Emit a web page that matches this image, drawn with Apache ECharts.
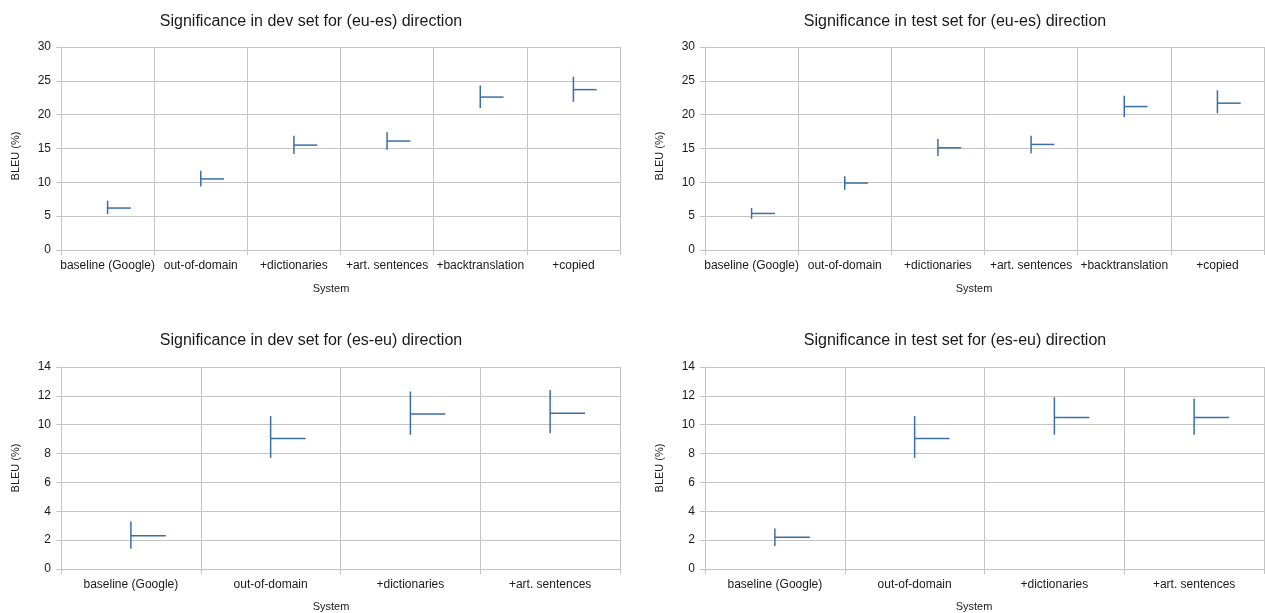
<!DOCTYPE html>
<html>
<head>
<meta charset="utf-8">
<script src="https://cdn.jsdelivr.net/npm/echarts@6/dist/echarts.min.js"></script>
<style>
  html, body { margin: 0; padding: 0; background: #fff; }
  #chart { width: 1265px; height: 613px; }
</style>
</head>
<body>
<div id="chart"></div>
<script>
// ---- Data ----
var categoriesEuEs = ["baseline (Google)", "out-of-domain", "+dictionaries", "+art. sentences", "+backtranslation", "+copied"];
var categoriesEsEu = ["baseline (Google)", "out-of-domain", "+dictionaries", "+art. sentences"];

var devEuEsLow  = [5.3, 9.4, 14.2, 14.8, 21.0, 21.9];
var devEuEsHigh = [7.3, 11.7, 16.9, 17.4, 24.3, 25.6];
var devEuEsMean = [6.2, 10.5, 15.5, 16.1, 22.6, 23.7];

var testEuEsLow  = [4.6, 8.9, 13.9, 14.3, 19.6, 20.2];
var testEuEsHigh = [6.2, 10.9, 16.4, 16.9, 22.8, 23.6];
var testEuEsMean = [5.4, 9.9, 15.1, 15.6, 21.2, 21.7];

var devEsEuLow  = [1.4, 7.7, 9.3, 9.4];
var devEsEuHigh = [3.3, 10.6, 12.3, 12.4];
var devEsEuMean = [2.3, 9.05, 10.75, 10.8];

var testEsEuLow  = [1.6, 7.7, 9.3, 9.3];
var testEsEuHigh = [2.8, 10.6, 11.9, 11.8];
var testEsEuMean = [2.2, 9.05, 10.5, 10.5];

var yTicksEuEs = { min: 0, max: 30, interval: 5 };
var yTicksEsEu = { min: 0, max: 14, interval: 2 };

var titles = [
  "Significance in dev set for (eu-es) direction",
  "Significance in test set for (eu-es) direction",
  "Significance in dev set for (es-eu) direction",
  "Significance in test set for (es-eu) direction"
];

// ---- Build ----
var FONT = "Liberation Sans, Arial, sans-serif";
var LINE = "#3a6ea5";
var GRIDC = "#c4c4c4";
var TEXT = "#1a1a1a";

function toData(low, high, mean) {
  return low.map(function (l, i) { return [i, l, high[i], mean[i]]; });
}

var panels = [
  { cats: categoriesEuEs, y: yTicksEuEs, data: toData(devEuEsLow, devEuEsHigh, devEuEsMean) },
  { cats: categoriesEuEs, y: yTicksEuEs, data: toData(testEuEsLow, testEuEsHigh, testEuEsMean) },
  { cats: categoriesEsEu, y: yTicksEsEu, data: toData(devEsEuLow, devEsEuHigh, devEsEuMean) },
  { cats: categoriesEsEu, y: yTicksEsEu, data: toData(testEsEuLow, testEsEuHigh, testEsEuMean) }
];

var gridPos = [
  { left: 61, top: 47, width: 559, height: 203 },
  { left: 705, top: 47, width: 559, height: 203 },
  { left: 61, top: 367, width: 559, height: 202 },
  { left: 705, top: 367, width: 559, height: 202 }
];

var titleCenters = [[306, 20], [950, 20], [306, 339], [950, 339]];
var systemPos = [[331, 289], [974, 289], [331, 607], [974, 607]];
var bleuPos = [[16, 156], [660, 156], [16, 468], [660, 468]];

function renderItem(params, api) {
  var x = api.value(0);
  var lo = api.coord([x, api.value(1)]);
  var hi = api.coord([x, api.value(2)]);
  var me = api.coord([x, api.value(3)]);
  var band = api.size([1, 0])[0];
  var st = { stroke: LINE, lineWidth: 1.5, fill: null };
  return {
    type: 'group',
    children: [
      { type: 'line', shape: { x1: lo[0], y1: lo[1], x2: hi[0], y2: hi[1] }, style: st },
      { type: 'line', shape: { x1: me[0], y1: me[1], x2: me[0] + band / 4, y2: me[1] }, style: st }
    ]
  };
}

var option = {
  backgroundColor: '#ffffff',
  animation: false,
  textStyle: { fontFamily: FONT },
  title: titleCenters.map(function (c, i) {
    return {
      text: titles[i], left: c[0], top: c[1] - 11, textAlign: 'center',
      textStyle: { fontFamily: FONT, fontSize: 16, fontWeight: 'normal', color: TEXT }
    };
  }),
  grid: gridPos.map(function (g) { return Object.assign({ containLabel: false }, g); }),
  xAxis: panels.map(function (p, i) {
    return {
      type: 'category', gridIndex: i, data: p.cats, boundaryGap: true,
      axisLine: { show: true, lineStyle: { color: GRIDC, width: 1 } },
      axisTick: { show: true, length: 5, lineStyle: { color: GRIDC } },
      axisLabel: { color: TEXT, fontSize: 12, fontFamily: FONT, margin: 10, interval: 0 },
      splitLine: { show: true, lineStyle: { color: GRIDC, width: 1 } }
    };
  }),
  yAxis: panels.map(function (p, i) {
    return {
      type: 'value', gridIndex: i, min: p.y.min, max: p.y.max, interval: p.y.interval,
      axisLine: { show: true, lineStyle: { color: GRIDC, width: 1 } },
      axisTick: { show: true, length: 5, lineStyle: { color: GRIDC } },
      axisLabel: { color: TEXT, fontSize: 12, fontFamily: FONT, margin: 10 },
      splitLine: { show: true, lineStyle: { color: GRIDC, width: 1 } }
    };
  }),
  graphic: systemPos.map(function (s) {
    return {
      type: 'text', x: s[0], y: s[1],
      style: { text: 'System', fontSize: 11, fontFamily: FONT, fill: TEXT, align: 'center', verticalAlign: 'middle' }
    };
  }).concat(bleuPos.map(function (b) {
    return {
      type: 'text', x: b[0], y: b[1], rotation: Math.PI / 2,
      style: { text: 'BLEU (%)', fontSize: 11, fontFamily: FONT, fill: TEXT, align: 'center', verticalAlign: 'middle' }
    };
  })),
  series: panels.map(function (p, i) {
    return {
      type: 'custom', xAxisIndex: i, yAxisIndex: i,
      encode: { x: 0, y: [1, 2, 3] },
      renderItem: renderItem,
      data: p.data
    };
  })
};

var chart = echarts.init(document.getElementById('chart'), null, { renderer: 'canvas' });
chart.setOption(option);
</script>
</body>
</html>
